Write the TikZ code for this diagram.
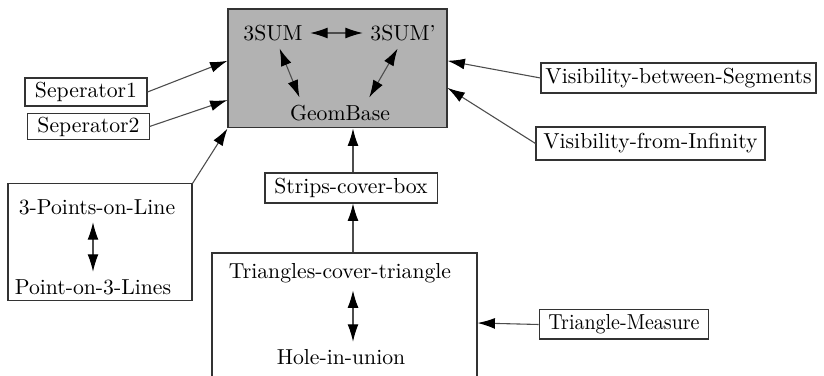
\documentclass[tikz,border=0pt]{standalone}
\usetikzlibrary{arrows.meta}

\tikzset{
	box/.style={draw=black!80, line width=0.5pt, inner sep=1.5pt, minimum height=13pt},
	plain/.style={inner sep=3.33pt},
	arr/.style={draw=black!70, line width=0.5pt, -{Latex[length=8pt,width=5pt,black]}},
	darr/.style={draw=black!70, line width=0.5pt, {Latex[length=8pt,width=5pt,black]}-{Latex[length=8pt,width=5pt,black]}}
}

\begin{document}
\begin{tikzpicture}[x=0.4608pt, y=-0.4608pt]
		\useasboundingbox (0,0) rectangle (824,376);
		
		% Core: grey block
		\node[draw=black!80, line width=0.5pt, fill=black!30, minimum width=100.9pt, minimum height=54.8pt] (geom) at (337.5,68.5) {};
		\node[plain] (sum) at (273,33) {3SUM};
		\node[plain] (sump) at (403,33) {3SUM'};
		\node[plain] (gb) at (340,113) {GeomBase};
		\draw[darr] (sum.east) -- (sump.west);
		\draw[darr] (sum.-67) -- (gb.159);
		\draw[darr] (sump.251) -- (gb.28);
		
		% Left side
		\node[box, minimum width=56.2pt, minimum height=12.9pt] (sepa) at (86,92) {Seperator1};
		\node[box, minimum width=55.8pt, minimum height=11.5pt] (sepb) at (88.5,126.5) {Seperator2};
		\draw[arr] (sepa.east) -- (geom.176);
		\draw[arr] (sepb.east) -- (geom.196);
		
		% Points and lines
		\node[draw=black!80, line width=0.5pt, minimum width=84.8pt, minimum height=53.5pt] (ptsbox) at (100,242) {};
		\node[plain] (pts) at (97,207) {3-Points-on-Line};
		\node[plain] (lines) at (93,287) {Point-on-3-Lines};
		\draw[darr] (lines.north |- pts.south) -- (lines.north);
		\draw[arr] (ptsbox.north east) -- (geom.south west);
		
		% Right side
		\node[box, minimum width=126.7pt, minimum height=13.8pt] (visseg) at (678.5,78) {Visibility-between-Segments};
		\node[box, minimum width=105.5pt, minimum height=15.2pt] (visinf) at (650.5,143.5) {Visibility-from-Infinity};
		\draw[arr] (visseg.west) -- (geom.4);
		\draw[arr] (visinf.west) -- (geom.350);
		
		% Strips and triangles
		\node[box, minimum width=79.3pt, minimum height=13.8pt] (strips) at (351,188) {Strips-cover-box};
		\coordinate (spine) at (353,188);
		\draw[arr] (spine |- strips.north) -- (spine |- geom.south);
		
		\node[draw=black!80, line width=0.5pt, minimum width=122.1pt, minimum height=64.5pt] (tribox) at (344.5,323) {};
		\node[plain] (tricov) at (340,273) {Triangles-cover-triangle};
		\node[plain] (hole) at (341,357) {Hole-in-union};
		\draw[darr] (spine |- tricov.south) -- (spine |- hole.north);
		\draw[arr] (spine |- tribox.north) -- (spine |- strips.south);
		
		\node[box, xscale=0.92, minimum width=85pt, minimum height=13.4pt] (measure) at (624,324.5) {Triangle-Measure};
		\draw[arr] (measure.west) -- (tribox.east);
	\end{tikzpicture}
\end{document}
